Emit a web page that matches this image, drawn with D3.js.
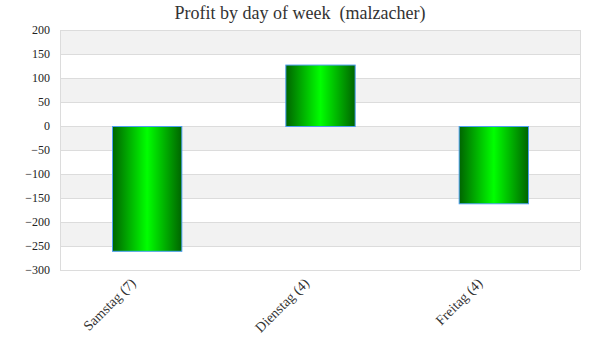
<!DOCTYPE html>
<html>
<head>
<meta charset="utf-8">
<script src="https://cdn.jsdelivr.net/npm/d3@7"></script>
<style>
  body { margin: 0; background: #fff; }
  text { font-family: "Liberation Serif", "DejaVu Serif", serif; }
</style>
</head>
<body>
<svg id="chart" width="600" height="360"></svg>
<script>
// data
var days = ["Samstag (7)", "Dienstag (4)", "Freitag (4)"];
var profit = [-260, 128, -161];
var yTicks = [200, 150, 100, 50, 0, -50, -100, -150, -200, -250, -300];

var svg = d3.select("#chart"),
    plotL = 60, plotR = 580, plotT = 30, plotB = 270;

var x = d3.scaleBand().domain(days).range([plotL, plotR]).paddingInner(0.6).paddingOuter(0.3);
var y = d3.scaleLinear().domain([-300, 200]).range([plotB, plotT]);

// gradient for bars
var grad = svg.append("defs").append("linearGradient")
    .attr("id", "barGrad").attr("x1", "0%").attr("x2", "100%").attr("y1", "0%").attr("y2", "0%");
grad.append("stop").attr("offset", "0%").attr("stop-color", "#006400");
grad.append("stop").attr("offset", "50%").attr("stop-color", "#00ff00");
grad.append("stop").attr("offset", "100%").attr("stop-color", "#006400");

// alternating bands
svg.append("g").selectAll("rect")
    .data(yTicks.slice(0, -1))
    .enter().append("rect")
    .attr("x", plotL)
    .attr("y", function (d) { return y(d); })
    .attr("width", plotR - plotL)
    .attr("height", function (d) { return y(d - 50) - y(d); })
    .attr("fill", function (d, i) { return i % 2 == 0 ? "#f2f2f2" : "#ffffff"; });

// grid lines
svg.append("g").selectAll("line")
    .data(yTicks)
    .enter().append("line")
    .attr("x1", plotL).attr("x2", plotR)
    .attr("y1", function (d) { return y(d) + 0.5; })
    .attr("y2", function (d) { return y(d) + 0.5; })
    .attr("stroke", "#dcdcdc");

svg.append("line").attr("x1", plotL + 0.5).attr("x2", plotL + 0.5).attr("y1", plotT).attr("y2", plotB)
    .attr("stroke", "#dcdcdc");
svg.append("line").attr("x1", plotR + 0.5).attr("x2", plotR + 0.5).attr("y1", plotT).attr("y2", plotB)
    .attr("stroke", "#dcdcdc");

// y axis labels
var yAxis = d3.axisLeft(y).tickValues(yTicks).tickSize(0).tickPadding(10);
var gy = svg.append("g").attr("transform", "translate(" + plotL + ",0)").call(yAxis);
gy.select(".domain").remove();
gy.selectAll("text").attr("font-size", 12).attr("fill", "#222")
    .attr("font-family", "'DejaVu Serif', serif");

// bars
svg.append("g").selectAll("rect")
    .data(profit)
    .enter().append("rect")
    .attr("x", function (d, i) { return x(days[i]) + 0.5; })
    .attr("y", function (d) { return y(Math.max(0, d)) + 0.5; })
    .attr("width", x.bandwidth())
    .attr("height", function (d) { return Math.abs(y(d) - y(0)); })
    .attr("fill", "url(#barGrad)")
    .attr("stroke", "#4d9ef0")
    .attr("stroke-width", 1);

// x labels
svg.append("g").selectAll("text")
    .data(days)
    .enter().append("text")
    .attr("transform", function (d) {
        return "translate(" + (x(d) + x.bandwidth() / 2 - 10) + ",284) rotate(-45)";
    })
    .attr("text-anchor", "end")
    .attr("font-size", 14)
    .attr("fill", "#333")
    .text(function (d) { return d; });

// title
svg.append("text")
    .attr("x", 300).attr("y", 19)
    .attr("text-anchor", "middle")
    .attr("font-size", 18)
    .attr("fill", "#333")
    .style("white-space", "pre")
    .text("Profit by day of week  (malzacher)");
</script>
</body>
</html>
